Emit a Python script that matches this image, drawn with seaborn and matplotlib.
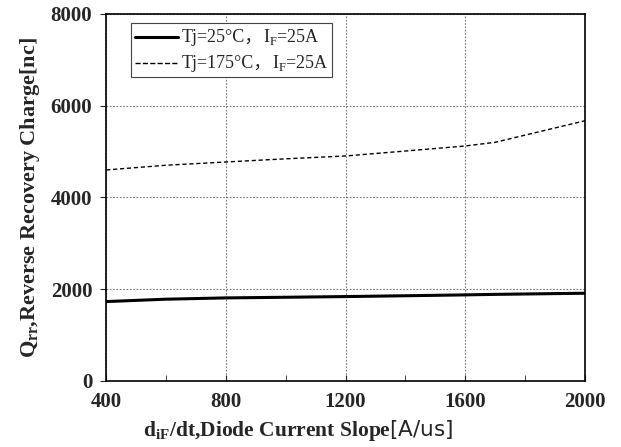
import numpy as np
import pandas as pd
import matplotlib
matplotlib.use('Agg')
import matplotlib.pyplot as plt
import seaborn as sns
from matplotlib.offsetbox import (AnchoredOffsetbox, DrawingArea, HPacker,
                                  TextArea, VPacker)
from matplotlib.lines import Line2D

# data
slope = [400, 600, 800, 1000, 1200, 1400, 1600, 1700, 2000]
qrr_25 = [1728, 1780, 1808, 1822, 1837, 1855, 1874, 1885, 1910]
qrr_175 = [4597, 4700, 4771, 4840, 4902, 5010, 5120, 5200, 5670]
temps = ['Tj=25°C，', 'Tj=175°C，']
current = r'I$_\mathregular{F}$=25A'
cond = ['25', '175']

sns.set_style('ticks')
plt.rcParams['font.family'] = ['Liberation Serif', 'Noto Sans CJK SC']
plt.rcParams['mathtext.fontset'] = 'custom'
plt.rcParams['mathtext.rm'] = 'Liberation Serif'
plt.rcParams['mathtext.bf'] = 'Liberation Serif:bold'
plt.rcParams['mathtext.sf'] = 'DejaVu Sans'

df = pd.DataFrame({'slope': slope * 2,
                   'qrr': qrr_25 + qrr_175,
                   'cond': [cond[0]] * len(slope) + [cond[1]] * len(slope)})

fig = plt.figure(figsize=(6.21, 4.47), dpi=100)
ax = fig.add_axes([0.171, 0.148, 0.771, 0.821])
sns.lineplot(data=df, x='slope', y='qrr', hue='cond', style='cond',
             palette=['black', 'black'], ax=ax, legend=False)
ax.lines[0].set_linewidth(2.2)
ax.lines[0].set_linestyle('-')
ax.lines[1].set_linewidth(1.0)
ax.lines[1].set_linestyle((0, (3, 2)))

ax.set_xlim(400, 2000)
ax.set_ylim(0, 8000)
ax.set_xticks([400, 800, 1200, 1600, 2000])
ax.set_xticks([600, 1000, 1400, 1800], minor=True)
ax.set_yticks([0, 2000, 4000, 6000, 8000])
ax.grid(True, which='major', color='#777777', linestyle=(0, (1.5, 1.5)), linewidth=0.8)
for lab in ax.get_xticklabels() + ax.get_yticklabels():
    lab.set_fontweight('bold')
    lab.set_fontsize(15)
ax.tick_params(axis='x', which='both', direction='in', length=4, pad=8)
ax.tick_params(axis='y', which='major', direction='out', length=4, pad=6)
for s in ax.spines.values():
    s.set_linewidth(1.2)
    s.set_color('black')

ax.set_xlabel(r'd$_{\mathbf{iF}}$/dt,Diode Current Slope$\mathsf{[A/us]}$',
              fontsize=15.5, fontweight='bold')
ax.xaxis.set_label_coords(0.40, -0.10)
ax.set_ylabel(r'Q$_{\mathbf{rr}}$,Reverse Recovery Charge[nc]',
              fontsize=16, fontweight='bold', labelpad=6)

# legend built by hand so the full-width comma and the subscript both render
rows = []
for line, t in zip(ax.lines[:2], temps):
    da = DrawingArea(31, 8, 0, 0)
    da.add_artist(Line2D([0, 31], [4, 4], color='black',
                         lw=line.get_linewidth(), ls=line.get_linestyle()))
    txt = HPacker(children=[TextArea(t, textprops=dict(fontsize=13)),
                            TextArea(current, textprops=dict(fontsize=13))],
                  align='baseline', pad=0, sep=0)
    rows.append(HPacker(children=[da, txt], align='center', pad=0, sep=3))
box = VPacker(children=rows, align='left', pad=0, sep=5)
anch = AnchoredOffsetbox(loc='upper left', child=box, pad=0.25, borderpad=0,
                         bbox_to_anchor=(0.052, 0.975), bbox_transform=ax.transAxes,
                         frameon=True)
anch.patch.set_edgecolor('#444444')
anch.patch.set_linewidth(0.8)
anch.patch.set_boxstyle('square', pad=0)
ax.add_artist(anch)

fig.savefig('out.png', dpi=100)
